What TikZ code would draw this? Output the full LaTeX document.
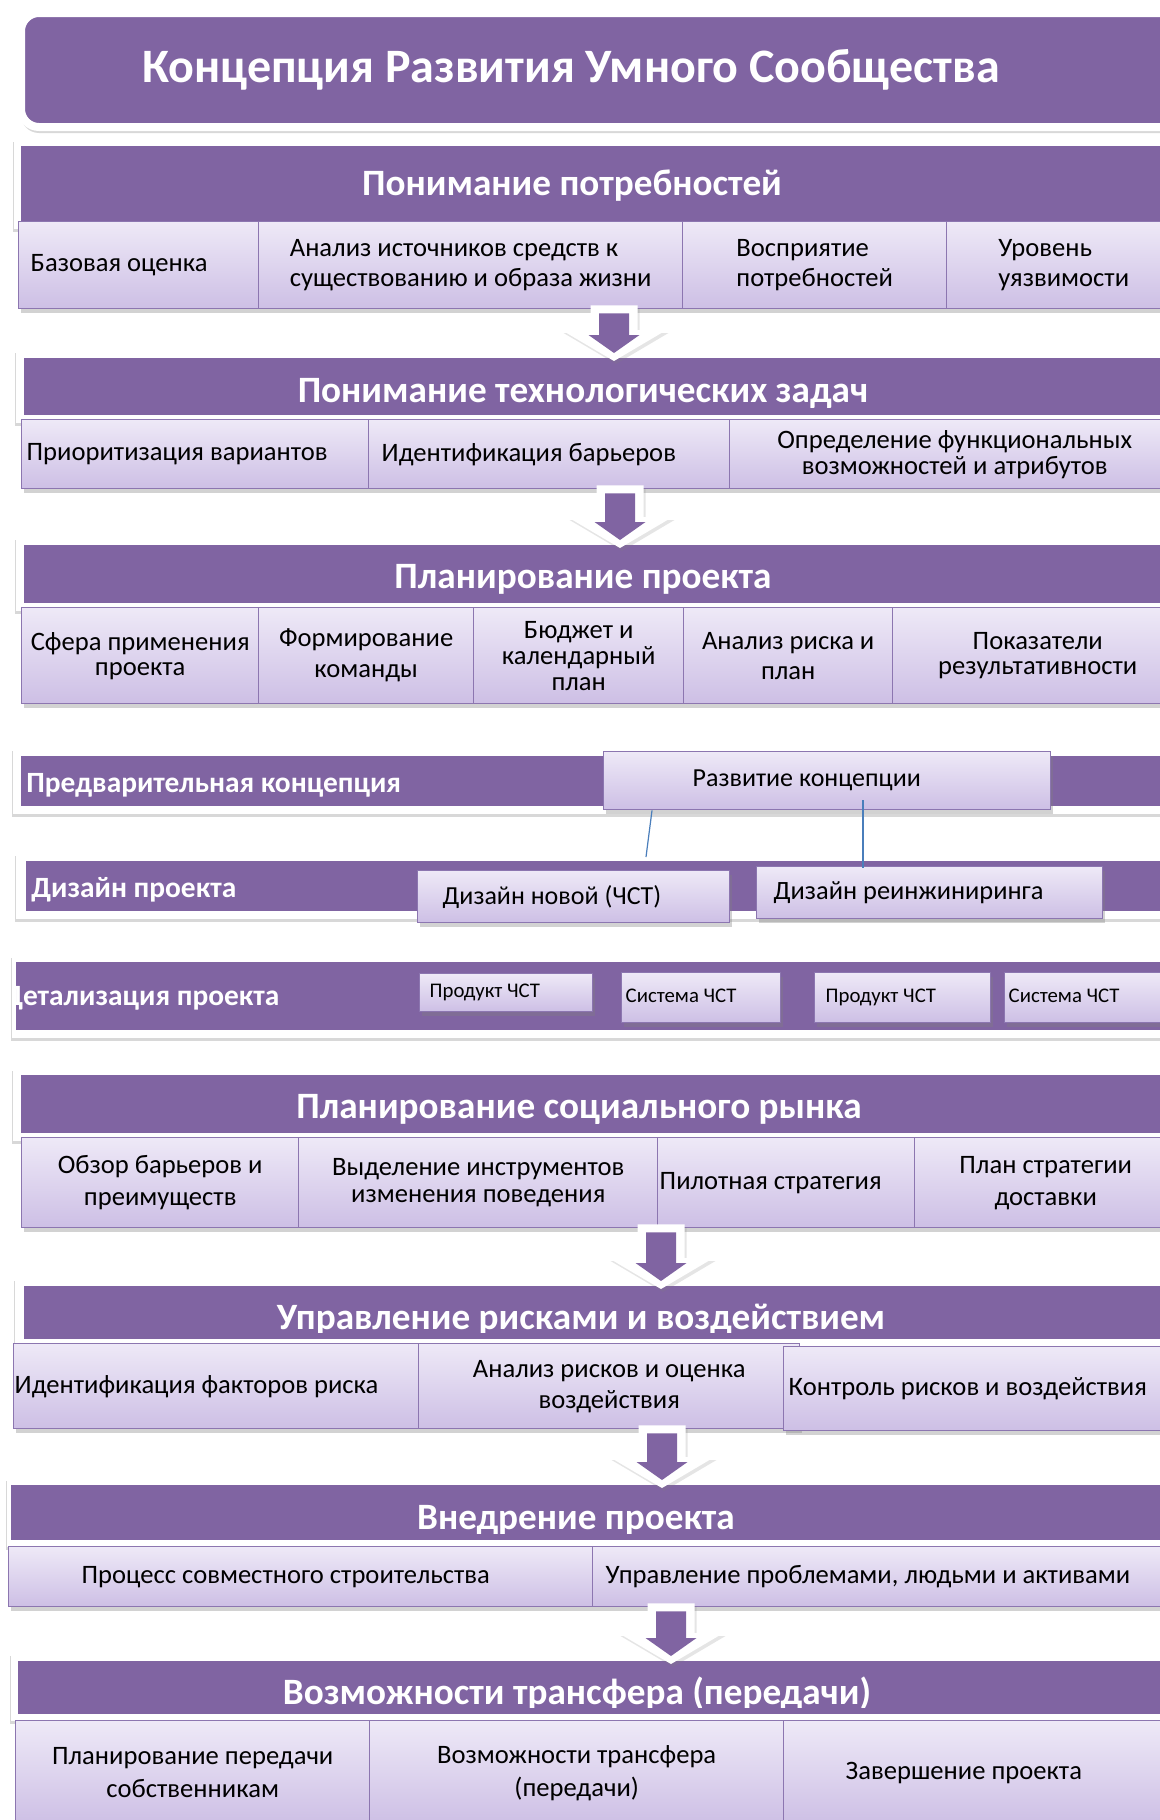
\documentclass[tikz,border=0pt]{standalone}
\usepackage{fontspec}
\setmainfont{Carlito}
\usetikzlibrary{calc}
\usetikzlibrary{shadows}
\definecolor{vio}{RGB}{128,100,162}
\definecolor{celltop}{RGB}{238,233,247}
\definecolor{cellbot}{RGB}{205,191,229}
\definecolor{cellline}{RGB}{140,118,176}
\definecolor{linkblue}{RGB}{74,126,187}

% block arrow between two stages: x, upper node, lower node
\newcommand{\stagearrow}[3]{%
  \path (#1,0) coordinate (sa-x);
  \coordinate (sa-top) at (#2.south -| sa-x);
  \coordinate (sa-tip) at (#3.north -| sa-x);
  \fill[white, drop shadow={shadow xshift=1pt, shadow yshift=-1.5pt, opacity=.2}]
    ($(sa-top)+(-23.5,-4)$) -- ($(sa-top)+(23.5,-4)$) -- ($(sa-tip)+(23.5,-28)$)
    -- ($(sa-tip)+(52.5,-28)$) -- ($(sa-tip)+(0,3)$) -- ($(sa-tip)+(-52.5,-28)$)
    -- ($(sa-tip)+(-23.5,-28)$) -- cycle;
  \fill[vio]
    ($(sa-top)+(-15,4)$) -- ($(sa-top)+(15,4)$) -- ($(sa-tip)+(15,-23)$)
    -- ($(sa-tip)+(25.5,-23)$) -- ($(sa-tip)+(0,-5)$) -- ($(sa-tip)+(-25.5,-23)$)
    -- ($(sa-tip)+(-15,-23)$) -- cycle;
}

\tikzset{
  wh/.style 2 args={minimum width=#1*0.5pt, minimum height=#2*0.5pt},
  bar/.style={fill=vio, inner sep=0pt, anchor=north west},
  card/.style={fill=white, drop shadow={shadow xshift=-0.5pt, shadow yshift=-1.5pt, opacity=.3}},
  cell/.style={draw=cellline, line width=0.7pt, top color=celltop, bottom color=cellbot,
    inner sep=0pt, anchor=north west, align=center, font=\fontsize{13.3}{15}\selectfont,
    drop shadow={shadow xshift=1pt, shadow yshift=-2pt, opacity=.35}},
  smallbox/.style={cell, font=\fontsize{10.4}{12}\selectfont, text height=7pt, text depth=2pt},
  headtext/.style={anchor=base, text=white, inner sep=0pt, font=\fontsize{18.6}{22}\selectfont\bfseries},
  bandtext/.style={anchor=base west, text=white, inner sep=0pt, font=\fontsize{14.7}{17}\selectfont\bfseries},
  link/.style={draw=linkblue, line width=0.6pt},
}

\begin{document}
\begin{tikzpicture}[x=0.5pt, y=-0.5pt]
  \fill[white] (0,0) rectangle (1160,1820);
  \useasboundingbox (0,0) rectangle (1160,1820);

  % title
  \node[bar, wh={1163}{114}, rounded corners=9pt, draw=white, line width=4pt,
    drop shadow={shadow xshift=0pt, shadow yshift=-3pt, opacity=.3}] (ttl) at (17,9) {};
  \node[headtext, font=\fontsize{24}{28}\selectfont\bfseries] (ttltext) at (571,82) {Концепция Развития Умного Сообщества};

  % needs
  \fill[card] (14,139) rectangle (1180,229);
  \node[bar, wh={1160}{75}] (h1) at (21,146) {};
  \node[headtext] (t1) at (572,195) {Понимание потребностей};
  \node[cell, wh={240}{87}, align=flush left, text width=108pt] (p1a) at (18,221) {Базовая оценка};
  \node[cell, wh={424}{87}, align=left] (p1b) at (258,221) {Анализ источников средств к\\существованию и образа жизни};
  \node[cell, wh={264}{87}, align=left] (p1c) at (682,221) {Восприятие\\потребностей};
  \node[cell, wh={234}{87}, align=left] (p1d) at (946,221) {Уровень\\уязвимости};

  % technology
  \fill[card] (16,350) rectangle (1180,423);
  \node[bar, wh={1160}{57}] (h2) at (24,358) {};
  \node[headtext] (t2) at (583,402) {Понимание технологических задач};
  \node[cell, wh={347}{69}, align=flush left, text width=168.5pt] (p2a) at (21,419) {Приоритизация вариантов};
  \node[cell, wh={361}{69}, align=flush left, text width=167.5pt] (p2b) at (368,419) {Идентификация барьеров};
  \node[cell, wh={450}{69}, font=\fontsize{13.3}{13}\selectfont] (p2c) at (729,419) {Определение функциональных\\возможностей и атрибутов};

  % project planning
  \fill[card] (16,537) rectangle (1180,611);
  \node[bar, wh={1160}{58}] (h3) at (24,545) {};
  \node[headtext] (t3) at (583,588) {Планирование проекта};
  \node[cell, wh={237}{96}, font=\fontsize{13.3}{12.5}\selectfont] (p3a) at (21,607) {Сфера применения\\проекта};
  \node[cell, wh={215}{96}, font=\fontsize{13.3}{15.5}\selectfont] (p3b) at (258,607) {Формирование\\команды};
  \node[cell, wh={210}{96}, font=\fontsize{13.3}{13}\selectfont] (p3c) at (473,607) {Бюджет и\\календарный\\план};
  \node[cell, wh={209}{96}] (p3d) at (683,607) {Анализ риска и\\план};
  \node[cell, wh={290}{96}, font=\fontsize{13.3}{12.5}\selectfont] (p3e) at (892,607) {Показатели\\результативности};

  % preliminary concept
  \fill[card] (13,748) rectangle (1180,814);
  \node[bar, wh={1160}{50}] (h4) at (21,756) {};
  \node[bandtext] (t4) at (26,792) {Предварительная концепция};
  \node[cell, wh={447}{58}, align=flush left, text width=134.5pt, font=\fontsize{13}{15}\selectfont] (razv) at (603,751) {Развитие концепции};

  % project design
  \fill[card] (16,853) rectangle (1180,919);
  \node[bar, wh={1160}{50}] (h5) at (26,861) {};
  \node[bandtext] (t5) at (31,897) {Дизайн проекта};
  \node[cell, wh={312}{52}, align=flush left, text width=131pt, font=\fontsize{13}{15}\selectfont] (dnew) at (417,870) {Дизайн новой (ЧСТ)};
  \node[cell, wh={346}{52}, align=flush left, text width=156pt, font=\fontsize{13.2}{15}\selectfont] (dre) at (756,866) {Дизайн реинжиниринга};

  % detailing
  \fill[card] (12,955) rectangle (1180,1038);
  \node[bar, wh={1170}{68}] (h6) at (16,962) {};
  \begin{scope}
    \clip (16,950) rectangle (1160,1040);
    \node[bandtext] (t6) at (3,1005) {Детализация проекта};
  \end{scope}
  \node[smallbox, wh={173}{38}, align=flush left, text width=76.5pt] (sb1) at (419,973) {Продукт ЧСТ};
  \node[smallbox, wh={159}{50}, align=flush left, text width=75.5pt] (sb2) at (621,972) {Система ЧСТ};
  \node[smallbox, wh={176}{50}, align=flush left, text width=77pt] (sb3) at (814,972) {Продукт ЧСТ};
  \node[smallbox, wh={176}{50}, align=flush left, text width=84pt] (sb4) at (1004,972) {Система ЧСТ};

  % links
  \draw[link] ([xshift=24.5pt]razv.south west) -- ([xshift=114.5pt,yshift=6.5pt]dnew.north west);
  \draw[link] ([xshift=130pt,yshift=5pt]razv.south west) -- ([xshift=53.5pt,yshift=-1pt]dre.north west);

  % social market
  \fill[card] (13,1068) rectangle (1180,1141);
  \node[bar, wh={1160}{58}] (h7) at (21,1075) {};
  \node[headtext] (t7) at (579,1118) {Планирование социального рынка};
  \node[cell, wh={277}{90}, font=\fontsize{13.3}{16}\selectfont] (p7a) at (21,1137) {Обзор барьеров и\\преимуществ};
  \node[cell, wh={359}{90}, font=\fontsize{13.3}{13.5}\selectfont] (p7b) at (298,1137) {Выделение инструментов\\изменения поведения};
  \node[cell, wh={257}{90}, align=flush left, text width=126.5pt] (p7c) at (657,1137) {Пилотная стратегия};
  \node[cell, wh={262}{90}, font=\fontsize{13.3}{16}\selectfont] (p7d) at (914,1137) {План стратегии\\доставки};

  % risks
  \fill[card] (15,1278) rectangle (1180,1347);
  \node[bar, wh={1160}{53}] (h8) at (24,1286) {};
  \begin{scope}
    \clip (0,1280) rectangle (1160,1332);
    \node[headtext] (t8) at (581,1329) {Управление рисками и воздействием};
  \end{scope}
  \node[cell, wh={405}{85}, align=flush left, text width=201.5pt] (p8a) at (13,1343) {Идентификация факторов риска};
  \node[cell, wh={381}{85}, font=\fontsize{13.3}{15.5}\selectfont] (p8b) at (418,1343) {Анализ рисков и оценка\\воздействия};
  \node[cell, wh={397}{84}, align=flush left, text width=193.5pt] (p8c) at (783,1346) {Контроль рисков и воздействия};

  % implementation
  \fill[card] (7,1478) rectangle (1180,1547);
  \node[bar, wh={1170}{55}] (h9) at (11,1485) {};
  \begin{scope}
    \clip (0,1480) rectangle (1160,1533);
    \node[headtext] (t9) at (576,1529) {Внедрение проекта};
  \end{scope}
  \node[cell, wh={584}{60}, align=flush left, text width=219pt] (p9a) at (8,1546) {Процесс совместного строительства};
  \node[cell, wh={588}{60}, align=flush left, text width=281pt] (p9b) at (592,1546) {Управление проблемами, людьми и активами};

  % transfer
  \fill[card] (11,1653) rectangle (1180,1721);
  \node[bar, wh={1165}{53}] (h10) at (18,1661) {};
  \begin{scope}
    \clip (0,1655) rectangle (1160,1707);
    \node[headtext] (t10) at (577,1704) {Возможности трансфера (передачи)};
  \end{scope}
  \node[cell, wh={354}{104}, font=\fontsize{13.3}{16.5}\selectfont] (p10a) at (15,1720) {Планирование передачи\\собственникам};
  \node[cell, wh={414}{104}, font=\fontsize{13.3}{16.5}\selectfont] (p10b) at (369,1720) {Возможности трансфера\\(передачи)};
  \node[cell, wh={397}{104}, align=flush left, text width=136.5pt] (p10c) at (783,1720) {Завершение проекта};

  % arrows between stages
  \stagearrow{614}{p1b}{h2}
  \stagearrow{620}{p2b}{h3}
  \stagearrow{661}{p7c}{h8}
  \stagearrow{662}{p8b}{h9}
  \stagearrow{671}{p9b}{h10}
\end{tikzpicture}
\end{document}
